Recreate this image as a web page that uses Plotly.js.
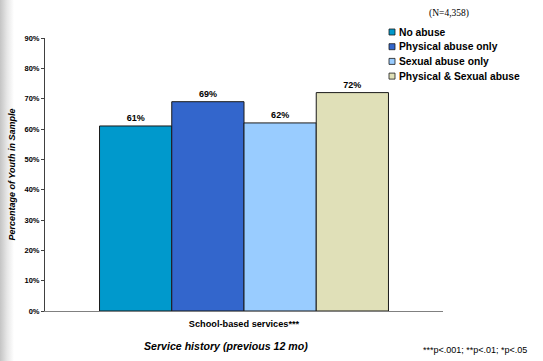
<!DOCTYPE html>
<html>
<head>
<meta charset="utf-8">
<script src="https://cdn.plot.ly/plotly-3.0.1.min.js"></script>
<style>
  html, body { margin: 0; padding: 0; background: #fff; }
  #wrap { position: relative; width: 543px; height: 361px;
          background: linear-gradient(to right, #c4c4c4 0px, #e6e6e6 7px, #ffffff 14px, #ffffff 100%); }
  #chart { position: absolute; left: 0; top: 0; width: 543px; height: 361px; }
</style>
</head>
<body>
<div id="wrap"><div id="chart"></div></div>
<script>
// Service use among youth, by abuse history
const category = ['School-based services***'];
const groups = ['No abuse', 'Physical abuse only', 'Sexual abuse only', 'Physical & Sexual abuse'];
const values = [0.61, 0.69, 0.62, 0.72];
const colors = ['#0099CC', '#3366CC', '#99CCFF', '#E0E0B8'];
const yTicks = [0, 0.1, 0.2, 0.3, 0.4, 0.5, 0.6, 0.7, 0.8, 0.9];

const font = 'Arial, "Liberation Sans", sans-serif';

// plot area in pixels, used to place the free-standing texts
const L = 45, R = 443, T = 38, B = 311;
const px = x => (x - L) / (R - L);
const py = y => (B - y) / (B - T);

const traces = groups.map((g, i) => ({
  type: 'bar',
  name: g,
  x: category,
  y: [values[i]],
  marker: { color: colors[i], line: { color: '#1a1a1a', width: 1 } },
  texttemplate: '%{y:.0%}',
  textposition: 'outside',
  cliponaxis: false,
  textfont: { family: font, size: 9, color: '#000', weight: 'bold' },
  hoverinfo: 'skip'
}));

const layout = {
  width: 543, height: 361,
  margin: { l: L, r: 543 - R, t: T, b: 361 - B },
  paper_bgcolor: 'rgba(0,0,0,0)',
  plot_bgcolor: 'rgba(0,0,0,0)',
  barmode: 'group',
  bargap: 0.274,
  bargroupgap: 0,
  showlegend: false,
  font: { family: font, color: '#000' },
  xaxis: {
    showline: true, linecolor: '#808080', linewidth: 1,
    ticks: '', showgrid: false, zeroline: false,
    ticklabelstandoff: 4,
    tickfont: { family: font, size: 9.2, weight: 'bold', color: '#000' }
  },
  yaxis: {
    range: [0, 0.9], tickvals: yTicks, tickformat: '.0%',
    showline: true, linecolor: '#404040', linewidth: 1,
    ticks: 'outside', ticklen: 3, tickcolor: '#404040',
    showgrid: false, zeroline: false,
    tickfont: { family: font, size: 7.5, weight: 'bold', color: '#000' },
    title: { text: 'Percentage of Youth in Sample', standoff: 7,
             font: { family: font, size: 9, weight: 'bold', style: 'italic', color: '#000' } }
  },
  shapes: [],
  annotations: []
};

// legend: small outlined squares with labels
groups.forEach((g, i) => {
  const yc = 32 + i * 14.7;
  layout.shapes.push({
    type: 'rect', xref: 'paper', yref: 'paper',
    x0: px(389), x1: px(395), y0: py(yc + 3), y1: py(yc - 3),
    fillcolor: colors[i], line: { color: '#1a1a1a', width: 0.8 }
  });
  layout.annotations.push({
    xref: 'paper', yref: 'paper', x: px(397), y: py(yc),
    xanchor: 'left', yanchor: 'middle', showarrow: false,
    text: g,
    font: { family: font, size: 10.3, weight: 'bold', color: '#000' }
  });
});

layout.annotations.push(
  { xref: 'paper', yref: 'paper', x: px(449), y: py(13),
    xanchor: 'center', yanchor: 'middle', showarrow: false, text: '(N=4,358)',
    font: { family: '"Liberation Serif", "Times New Roman", serif', size: 9.5, color: '#000' } },
  { xref: 'paper', yref: 'paper', x: px(226), y: py(346),
    xanchor: 'center', yanchor: 'middle', showarrow: false,
    text: 'Service history (previous 12 mo)',
    font: { family: font, size: 10.6, weight: 'bold', style: 'italic', color: '#000' } },
  { xref: 'paper', yref: 'paper', x: px(475), y: py(350),
    xanchor: 'center', yanchor: 'middle', showarrow: false,
    text: '***p<.001; **p<.01; *p<.05',
    font: { family: font, size: 9, color: '#000' } }
);

Plotly.newPlot('chart', traces, layout, { displayModeBar: false, staticPlot: true });
</script>
</body>
</html>
